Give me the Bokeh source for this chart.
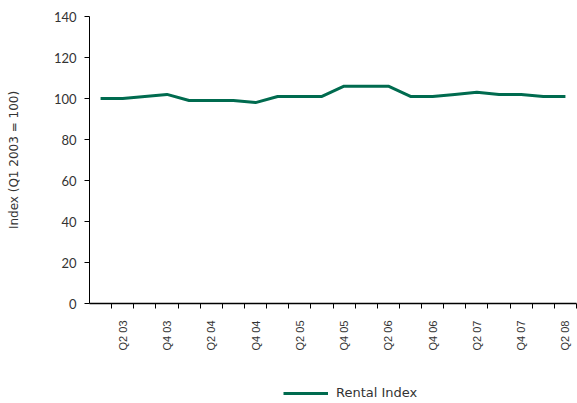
from math import pi

from bokeh.embed import file_html
from bokeh.layouts import column
from bokeh.models import FixedTicker, Legend, LegendItem, Range1d
from bokeh.plotting import figure
from bokeh.resources import INLINE

# Quarterly rental index, Q1 2003 = 100
quarters = [
    "Q1 03", "Q2 03", "Q3 03", "Q4 03",
    "Q1 04", "Q2 04", "Q3 04", "Q4 04",
    "Q1 05", "Q2 05", "Q3 05", "Q4 05",
    "Q1 06", "Q2 06", "Q3 06", "Q4 06",
    "Q1 07", "Q2 07", "Q3 07", "Q4 07",
    "Q1 08", "Q2 08",
]
rental_index = [
    100, 100, 101, 102,
    99, 99, 99, 98,
    101, 101, 101, 106,
    106, 106, 101, 101,
    102, 103, 102, 102,
    101, 101,
]
y_ticks = [0, 20, 40, 60, 80, 100, 120, 140]

GREEN = "#006B4F"
TEXT = "#333333"
LINE_WIDTH = 3

x = list(range(len(quarters)))

p = figure(
    width=577,
    height=370,
    output_backend="svg",
    toolbar_location=None,
    x_range=Range1d(-0.5, len(quarters) - 0.5),
    y_range=Range1d(0, 140),
    min_border_left=89,
    min_border_right=1,
    min_border_top=16,
    min_border_bottom=67,
)
p.outline_line_color = None
p.xgrid.visible = False
p.ygrid.visible = False
p.background_fill_color = "white"
p.border_fill_color = "white"

p.line(x, rental_index, line_color=GREEN, line_width=LINE_WIDTH)

# x axis: labels on every second quarter, tick marks between quarters
label_pos = [i for i, q in enumerate(quarters) if q.startswith(("Q2", "Q4"))]
p.xaxis.ticker = FixedTicker(
    ticks=label_pos,
    minor_ticks=[i + 0.5 for i in range(len(quarters))],
)
p.xaxis.major_label_overrides = {i: quarters[i] for i in label_pos}
p.xaxis.major_label_orientation = pi / 2
p.xaxis.major_tick_out = 0
p.xaxis.major_tick_in = 0
p.xaxis.minor_tick_out = 5
p.xaxis.minor_tick_in = 0
p.xaxis.minor_tick_line_color = "black"
p.xaxis.axis_line_color = "black"
p.xaxis.axis_line_width = 1.5
p.xaxis.major_label_standoff = 12
p.xaxis.major_label_text_font = "Liberation Sans"
p.xaxis.major_label_text_font_size = "11px"
p.xaxis.major_label_text_color = TEXT

# y axis
p.yaxis.ticker = FixedTicker(ticks=y_ticks)
p.yaxis.axis_label = "Index (Q1 2003 = 100)"
p.yaxis.axis_label_text_font = "DejaVu Sans"
p.yaxis.axis_label_text_font_style = "normal"
p.yaxis.axis_label_text_font_size = "12px"
p.yaxis.axis_label_text_color = TEXT
p.yaxis.axis_label_standoff = 30
p.yaxis.major_label_text_font = "Lato"
p.yaxis.major_label_text_font_size = "13px"
p.yaxis.major_label_text_color = TEXT
p.yaxis.major_tick_out = 5
p.yaxis.major_tick_in = 0
p.yaxis.minor_tick_line_color = None
p.yaxis.axis_line_color = "black"
p.yaxis.major_label_standoff = 8

# legend strip under the chart (its frame lines up with the chart frame)
leg_fig = figure(
    width=577,
    height=33,
    output_backend="svg",
    toolbar_location=None,
    x_range=Range1d(0, 1),
    y_range=Range1d(0, 1),
    x_axis_type=None,
    y_axis_type=None,
    min_border=0,
)
leg_fig.outline_line_color = None
leg_fig.xgrid.visible = False
leg_fig.ygrid.visible = False
# swatch renderer only: its data is empty (NaN), so nothing is drawn in the strip
leg_line = leg_fig.line(
    x=[float("nan")], y=[float("nan")], line_color=GREEN, line_width=LINE_WIDTH
)

legend = Legend(
    items=[LegendItem(label="Rental Index", renderers=[leg_line])],
    location=(194, 3),
    orientation="vertical",
    border_line_color=None,
    background_fill_alpha=0,
    glyph_width=45,
    glyph_height=14,
    label_text_font="DejaVu Sans",
    label_text_font_size="13px",
    label_text_color=TEXT,
    label_standoff=8,
    padding=0,
    margin=0,
)
leg_fig.add_layout(legend, "center")

open("out.html", "w").write(file_html(column(p, leg_fig, spacing=0), INLINE))
